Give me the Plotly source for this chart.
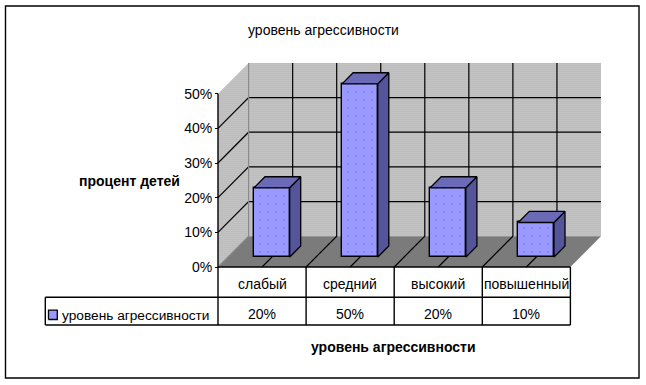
import plotly.graph_objects as go

categories = ["слабый", "средний", "высокий", "повышенный"]
values = [20, 50, 20, 10]
series_name = "уровень агрессивности"
y_ticks = [0, 10, 20, 30, 40, 50]
title_text = "уровень агрессивности"
x_title_text = "уровень агрессивности"
y_title_text = "процент детей"

W, H = 646, 385
FONT = "Liberation Sans"
X0, CATW = 218.0, 88.1      # px of category 0 edge, px per category
Y0, PXV = 267.0, 3.466      # px of value 0, px per percent
DX, DY = 30.6, 30.8         # px offset of the back wall

xr = [(0 - X0) / CATW, (W - X0) / CATW]
yr = [(Y0 - H) / PXV, Y0 / PXV]


def P(c, v, d=0.0):
    """oblique projection: category pos, value, depth(0..1) -> axis coords"""
    return c + d * DX / CATW, v + d * DY / PXV


def poly(pts, color, fg, size, solid, ax, line=None, shape="."):
    xs = [p[0] for p in pts] + [pts[0][0]]
    ys = [p[1] for p in pts] + [pts[0][1]]
    return go.Scatter(
        x=xs, y=ys, mode="lines", fill="toself", fillcolor=color,
        fillpattern=dict(shape=shape, bgcolor=color, fgcolor=fg, size=size, solidity=solid),
        line=dict(color=line or "rgba(0,0,0,0)", width=1.3 if line else 0),
        hoverinfo="skip", showlegend=False, xaxis=ax[0], yaxis=ax[1])


def seg(pts, ax=("x", "y"), color="#000", width=1.2):
    return go.Scatter(x=[p[0] for p in pts], y=[p[1] for p in pts], mode="lines",
                      line=dict(color=color, width=width), hoverinfo="skip",
                      showlegend=False, xaxis=ax[0], yaxis=ax[1])


n = len(categories)
top = max(y_ticks)
fig = go.Figure()
base_ax = ("x", "y")
over_ax = ("x2", "y2")

# back wall, side wall, floor
fig.add_trace(poly([P(0, 0, 1), P(n, 0, 1), P(n, top, 1), P(0, top, 1)], "#c8c8c8", "#808080", 2, 0.28, base_ax))
fig.add_trace(poly([P(0, 0), P(0, 0, 1), P(0, top, 1), P(0, top)], "#c8c8c8", "#808080", 2, 0.28, base_ax))
fig.add_trace(poly([P(0, 0), P(n, 0), P(n, 0, 1), P(0, 0, 1)], "#808080", "#666666", 2, 0.4, base_ax))

# gridlines (none along the top edge)
for v in y_ticks[1:-1]:
    fig.add_trace(seg([P(0, v), P(0, v, 1), P(n, v, 1)]))
for i in range(0, 2 * n):
    c = i / 2
    fig.add_trace(seg([P(c, 0), P(c, 0, 1), P(c, top, 1)],
                      color="#000" if i else "#8a8a8a"))
fig.add_trace(seg([P(0, 0), P(0, top)], width=1.4))

# bars: front face as real bars, side/top faces derived from same values
D0, D1 = 0.32, 0.68
off = P(0, 0, D0)
bw = 0.405
for i, v in enumerate(values):
    c = i + 0.5
    l, r = c - bw / 2, c + bw / 2
    fig.add_trace(poly([P(r, 0, D0), P(r, 0, D1), P(r, v, D1), P(r, v, D0)],
                       "#5c5ca6", "#33336b", 2, 0.4, over_ax, "#000"))
    fig.add_trace(poly([P(l, v, D0), P(r, v, D0), P(r, v, D1), P(l, v, D1)],
                       "#7070c0", "#4a4a8a", 2, 0.35, over_ax, "#000"))
fig.add_trace(go.Bar(
    x=[i + 0.5 + off[0] for i in range(n)], y=values, base=off[1], width=bw,
    marker=dict(color="#9999ff", line=dict(color="#000", width=1.4),
                pattern=dict(shape=".", bgcolor="#9999ff", fgcolor="#5a5ad8", size=8, solidity=0.04)),
    name=series_name, showlegend=False, hoverinfo="skip", xaxis="x2", yaxis="y2"))

# table lines (on top of everything)
ty1, ty2 = Y0 + 30.3, Y0 + 58
vy1, vy2 = (Y0 - ty1) / PXV, (Y0 - ty2) / PXV
fig.add_trace(seg([P(0, 0), P(n, 0)], over_ax, width=1.4))
left_c = (45.3 - X0) / CATW
fig.add_trace(seg([(left_c, vy1), (n, vy1)], over_ax, width=1.4))
fig.add_trace(seg([(left_c, vy2), (n, vy2)], over_ax, width=1.4))
fig.add_trace(seg([(left_c, vy1), (left_c, vy2)], over_ax, width=1.4))
for i in range(n + 1):
    fig.add_trace(seg([(i, 0), (i, vy2)], over_ax, width=1.4))

# legend key
kx0, kx1 = (48.5 - X0) / CATW, (57.3 - X0) / CATW
ky0, ky1 = (Y0 - 319.5) / PXV, (Y0 - 310.2) / PXV
fig.add_trace(poly([(kx0, ky0), (kx1, ky0), (kx1, ky1), (kx0, ky1)], "#9999ff", "#9999ff", 3, 0.1, over_ax, "#000"))

ann = []
size = 14
mid = dict(showarrow=False, yanchor="middle")
for i, cat in enumerate(categories):
    ann.append(dict(x=i + 0.5, y=(Y0 - 283.5) / PXV, text=cat, xref="x2", yref="y2", xanchor="center",
                    font=dict(size=size), **mid))
    ann.append(dict(x=i + 0.5, y=(Y0 - 314) / PXV, text=f"{values[i]}%", xref="x2", yref="y2", xanchor="center",
                    font=dict(size=size), **mid))
ann.append(dict(x=(59.5 - X0) / CATW, y=(Y0 - 315) / PXV, text=series_name, xref="x2", yref="y2",
                xanchor="left", font=dict(size=13.7), **mid))
ann.append(dict(x=323.5 / W, y=1 - 30 / H, text=title_text, xref="paper", yref="paper", xanchor="center",
                font=dict(size=size), **mid))
ann.append(dict(x=393 / W, y=1 - 346.5 / H, text=f"<b>{x_title_text}</b>", xref="paper", yref="paper",
                xanchor="center", font=dict(size=size), **mid))
ann.append(dict(x=129 / W, y=1 - 180.5 / H, text=f"<b>{y_title_text}</b>", xref="paper", yref="paper",
                xanchor="center", font=dict(size=size), **mid))

frame = dict(type="rect", xref="paper", yref="paper", x0=5.5 / W, x1=639 / W, y0=1 - 378 / H, y1=1 - 6 / H,
             line=dict(color="#000", width=1.4), layer="below", fillcolor="white")

fig.update_layout(
    width=W, height=H, margin=dict(l=0, r=0, t=0, b=0), autosize=False,
    paper_bgcolor="white", plot_bgcolor="rgba(0,0,0,0)", showlegend=False,
    font=dict(family=FONT, size=size, color="#000"),
    shapes=[frame], annotations=ann, bargap=0,
    xaxis=dict(range=xr, domain=[0, 1], visible=False, fixedrange=True),
    yaxis=dict(range=yr, domain=[0, 1], anchor="free", position=X0 / W,
               tickmode="array", tickvals=y_ticks, ticktext=[f"{t}%" for t in y_ticks],
               ticks="outside", ticklen=3, tickwidth=1.3, tickcolor="#000", showgrid=False,
               zeroline=False, showline=False, fixedrange=True, tickfont=dict(size=14)),
    xaxis2=dict(range=xr, overlaying="x", visible=False, fixedrange=True),
    yaxis2=dict(range=yr, overlaying="y", visible=False, fixedrange=True),
)

fig.write_html("out.html", config=dict(displayModeBar=False),
               post_script="document.body.style.margin='0';")
